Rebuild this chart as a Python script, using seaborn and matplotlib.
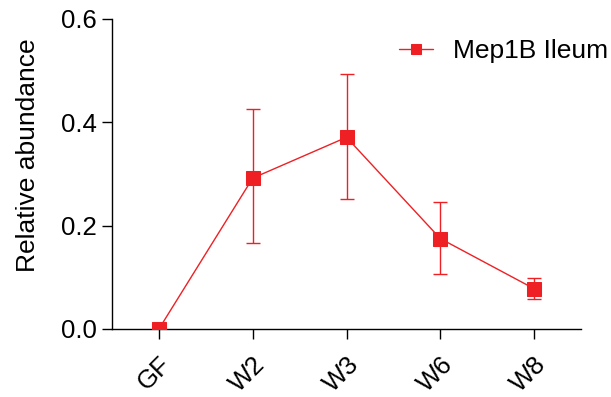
import matplotlib
matplotlib.use("Agg")
import matplotlib.pyplot as plt
import seaborn as sns
import pandas as pd
import numpy as np

categories = ["GF", "W2", "W3", "W6", "W8"]
mean_vals = [0.0, 0.292, 0.371, 0.175, 0.078]
upper_vals = [0.0, 0.425, 0.493, 0.246, 0.099]
lower_vals = [0.0, 0.166, 0.251, 0.107, 0.058]
series_name = "Mep1B Ileum"

sns.set_style("ticks")
plt.rcParams['font.family'] = ['Liberation Sans', 'DejaVu Sans']
plt.rcParams['text.color'] = 'black'
plt.rcParams['axes.labelcolor'] = 'black'
plt.rcParams['xtick.color'] = 'black'
plt.rcParams['ytick.color'] = 'black'

red = "#EE2024"
df = pd.DataFrame({"x": np.arange(len(categories)), "y": mean_vals})

fig = plt.figure(figsize=(6.11, 3.97), dpi=100)
ax = fig.add_axes([112/611, 1-329/397, (581-112)/611, (329-19)/397])

yerr = [np.array(mean_vals) - np.array(lower_vals), np.array(upper_vals) - np.array(mean_vals)]
ax.errorbar(df["x"], df["y"], yerr=yerr, fmt="none", ecolor=red, elinewidth=1, capsize=5, capthick=1, zorder=2)
sns.lineplot(data=df, x="x", y="y", ax=ax, color=red, marker="s", markersize=9.5,
             markeredgecolor=red, linewidth=1, label=series_name, zorder=3)

ax.set_xlim(-0.5, 4.5)
ax.set_ylim(0, 0.6)
ax.set_yticks([0.0, 0.2, 0.4, 0.6])
ax.set_yticklabels(["0.0", "0.2", "0.4", "0.6"])
ax.set_xticks(range(len(categories)))
ax.set_xticklabels(categories, rotation=45, ha="right", rotation_mode="anchor")
ax.tick_params(axis="both", labelsize=18.5, length=7, width=1, colors="black")
ax.tick_params(axis="x", pad=10)
ax.tick_params(axis="y", pad=4)
ax.set_xlabel("")
ax.set_ylabel("Relative abundance", fontsize=19)
ax.yaxis.set_label_coords(-0.1535, 0.561)
for s in ["left", "bottom"]:
    ax.spines[s].set_linewidth(1)
    ax.spines[s].set_color("black")
sns.despine(ax=ax)

leg = ax.legend(loc="upper right", frameon=False, fontsize=19, handlelength=1.3,
                handletextpad=0.75, markerscale=0.75,
                bbox_to_anchor=(1.08, 0.97), borderaxespad=0.0)

fig.savefig("out.png", dpi=100)
